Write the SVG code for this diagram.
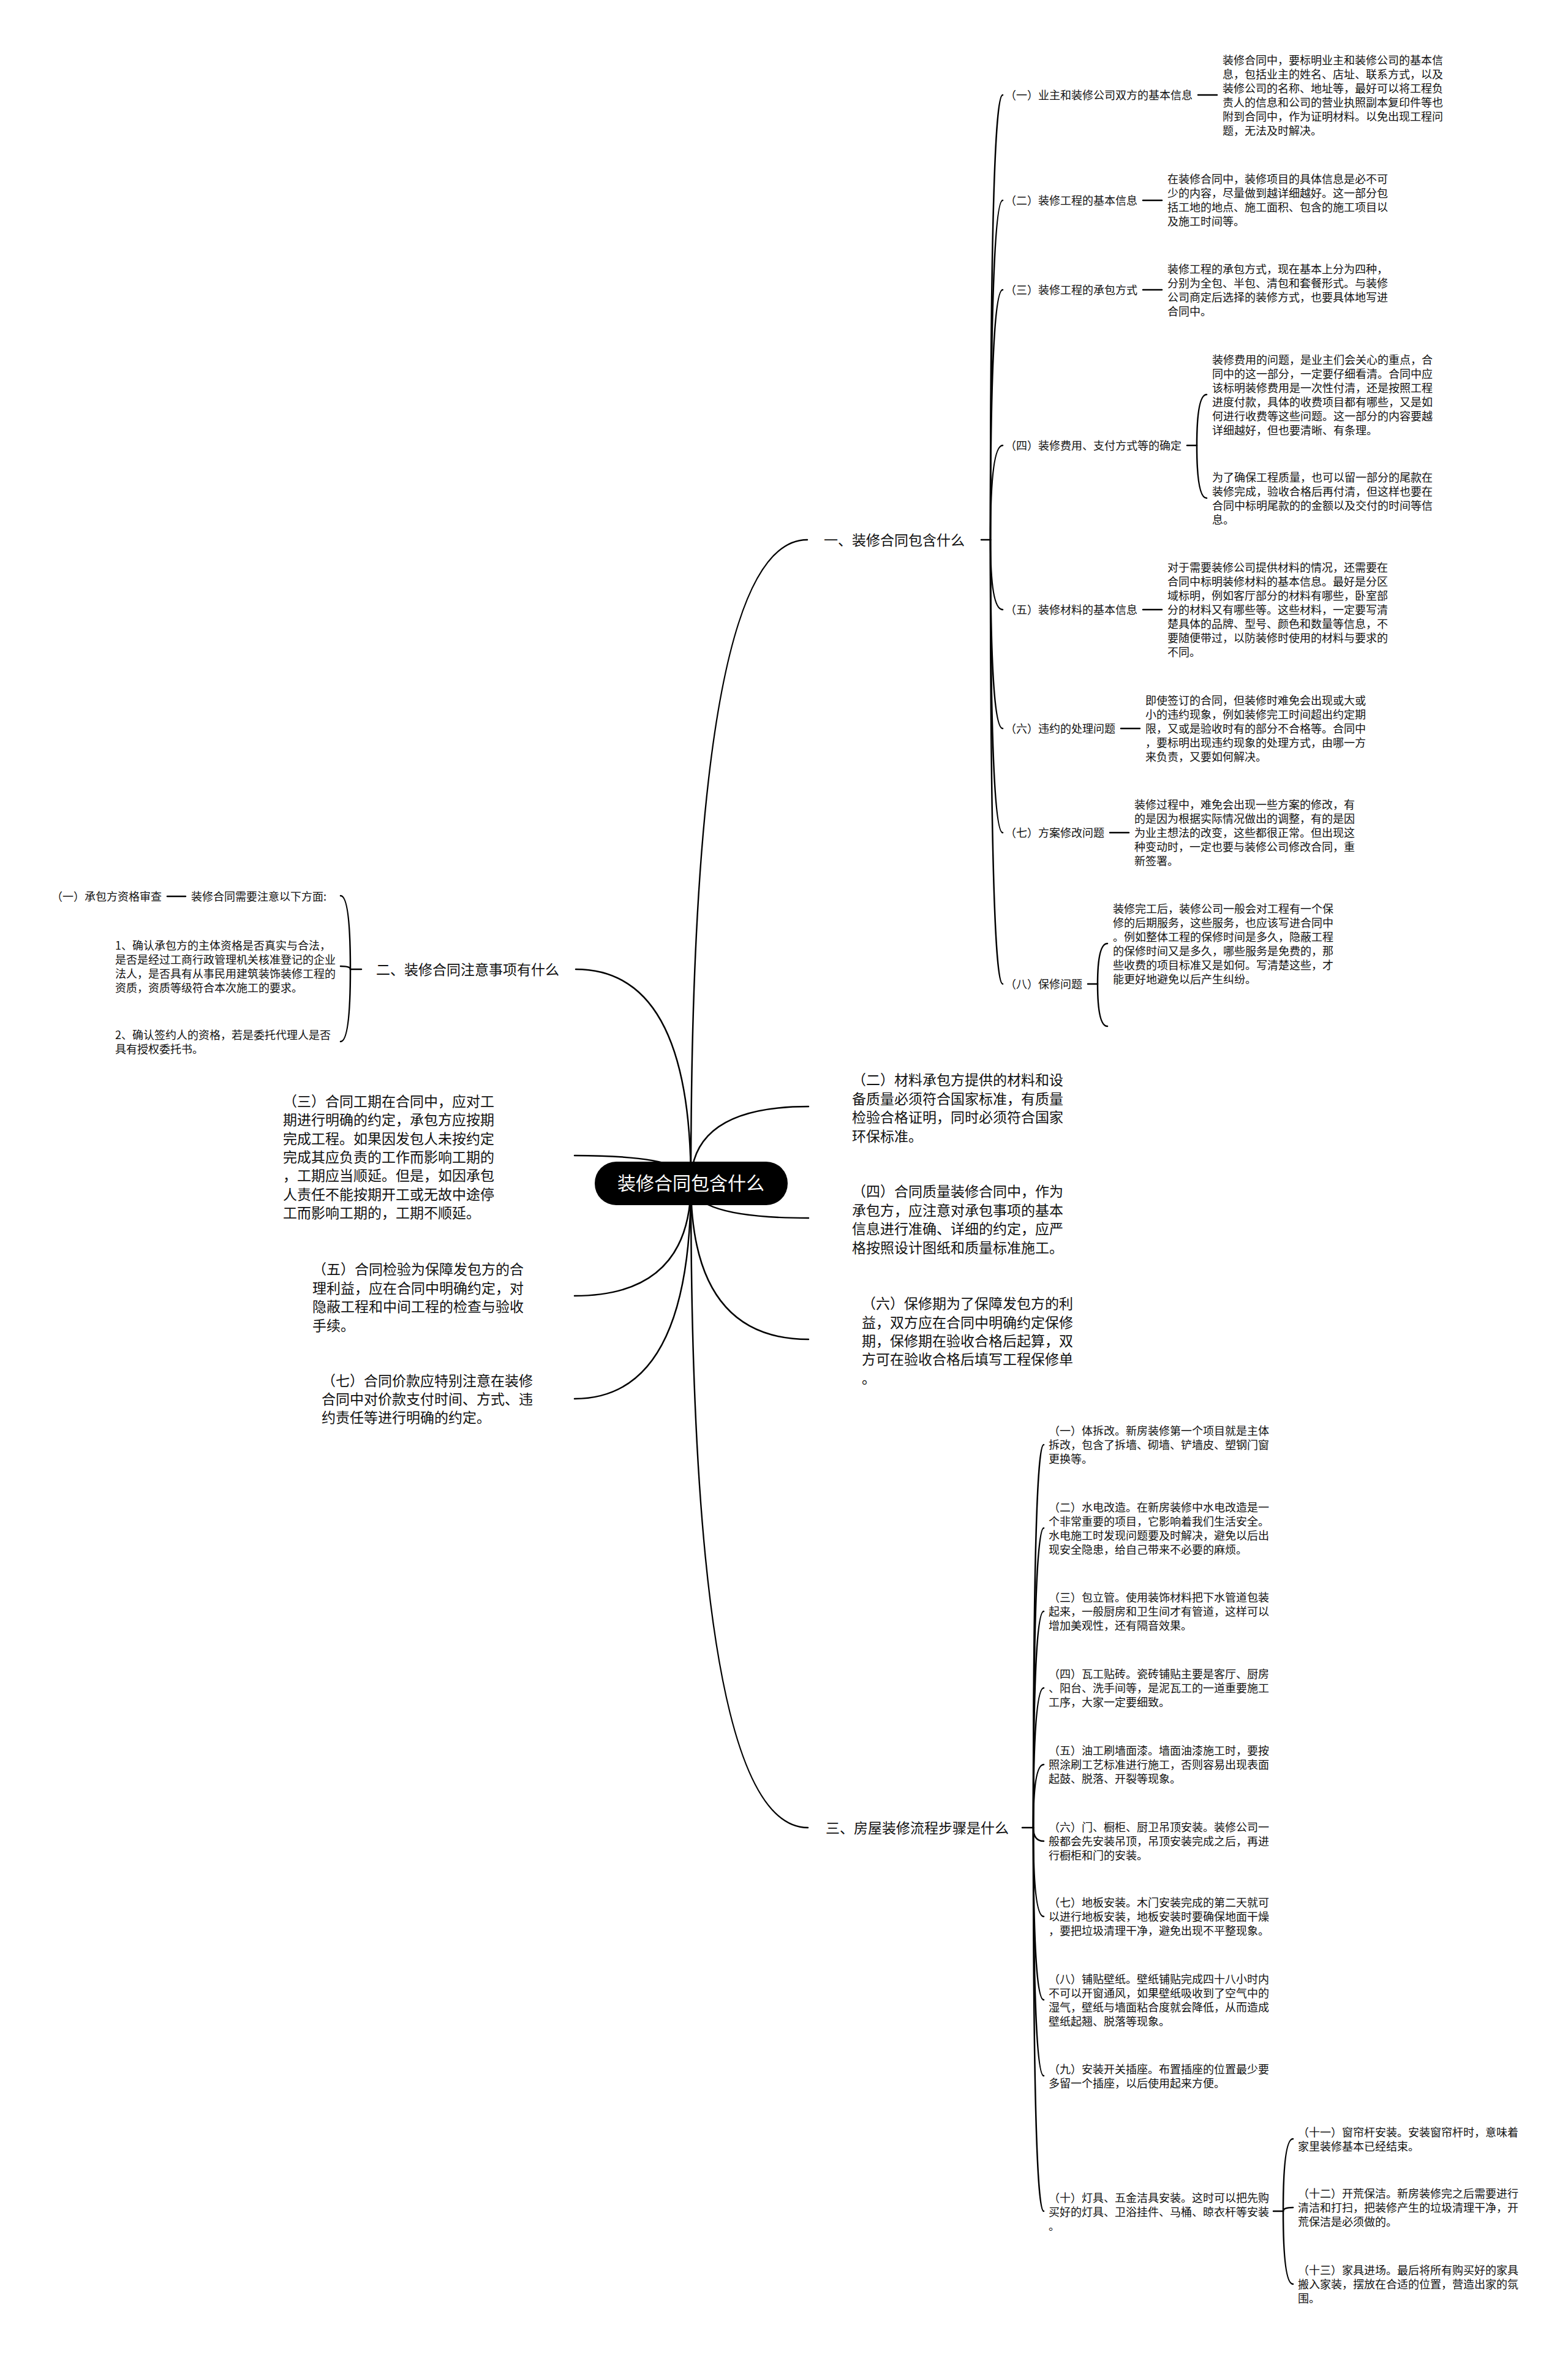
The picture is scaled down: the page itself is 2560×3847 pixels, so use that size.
<svg xmlns="http://www.w3.org/2000/svg" width="2560" height="3847" viewBox="0 0 2560 3847">
<style>
text{font-family:"Noto Sans CJK SC","Noto Sans",sans-serif;fill:#111}
.s{font-size:18px}
.m{font-size:23px}
.c{font-size:30px;fill:#fff}
.l{fill:none;stroke:#000;stroke-width:2.5;stroke-linecap:round}
</style>
<rect width="2560" height="3847" fill="#fff"/>
<g id="connectors">
<path class="l" d="M1128 1931Q1128 881 1318 881"/>
<path class="l" d="M1128 1931Q1128 1806 1320 1806"/>
<path class="l" d="M1128 1931Q1128 1988 1320 1988"/>
<path class="l" d="M1128 1931Q1128 2186 1320 2186"/>
<path class="l" d="M1128 1931Q1128 2983 1319 2983"/>
<path class="l" d="M1128 1931Q1128 1582 940 1582"/>
<path class="l" d="M1128 1931Q1128 1886 938 1886"/>
<path class="l" d="M1128 1931Q1128 2115 938 2115"/>
<path class="l" d="M1128 1931Q1128 2283 938 2283"/>
<path class="l" d="M1602 881H1617"/>
<path class="l" d="M1617 881Q1617 155 1637 155"/>
<path class="l" d="M1617 881Q1617 327 1637 327"/>
<path class="l" d="M1617 881Q1617 473 1637 473"/>
<path class="l" d="M1617 881Q1617 727 1637 727"/>
<path class="l" d="M1617 881Q1617 995 1637 995"/>
<path class="l" d="M1617 881Q1617 1189 1637 1189"/>
<path class="l" d="M1617 881Q1617 1359 1637 1359"/>
<path class="l" d="M1617 881Q1617 1606 1637 1606"/>
<path class="l" d="M1956 155H1987"/>
<path class="l" d="M1866 327H1897"/>
<path class="l" d="M1866 473H1897"/>
<path class="l" d="M1938 727H1954"/>
<path class="l" d="M1954 727Q1954 644 1970 644"/>
<path class="l" d="M1954 727Q1954 813 1970 813"/>
<path class="l" d="M1866 995H1897"/>
<path class="l" d="M1830 1189H1861"/>
<path class="l" d="M1812 1359H1843"/>
<path class="l" d="M1776 1606H1792"/>
<path class="l" d="M1792 1606Q1792 1540 1808 1540"/>
<path class="l" d="M1792 1606Q1792 1675 1808 1675"/>
<path class="l" d="M590 1582H572"/>
<path class="l" d="M572 1582Q572 1462 556 1462"/>
<path class="l" d="M572 1582Q572 1577 556 1577"/>
<path class="l" d="M572 1582Q572 1700 556 1700"/>
<path class="l" d="M303 1463H273"/>
<path class="l" d="M1669 2983H1687"/>
<path class="l" d="M1687 2983Q1687 2358 1704 2358"/>
<path class="l" d="M1687 2983Q1687 2494 1704 2494"/>
<path class="l" d="M1687 2983Q1687 2630 1704 2630"/>
<path class="l" d="M1687 2983Q1687 2755 1704 2755"/>
<path class="l" d="M1687 2983Q1687 2880 1704 2880"/>
<path class="l" d="M1687 2983Q1687 3005 1704 3005"/>
<path class="l" d="M1687 2983Q1687 3128 1704 3128"/>
<path class="l" d="M1687 2983Q1687 3264 1704 3264"/>
<path class="l" d="M1687 2983Q1687 3388 1704 3388"/>
<path class="l" d="M1687 2983Q1687 3609 1704 3609"/>
<path class="l" d="M2079 3609H2095"/>
<path class="l" d="M2095 3609Q2095 3491 2111 3491"/>
<path class="l" d="M2095 3609Q2095 3603 2111 3603"/>
<path class="l" d="M2095 3609Q2095 3728 2111 3728"/>
</g>
<g id="root">
<rect x="971" y="1896" width="315" height="71" rx="35" fill="#000"/>
<text class="c" x="1128" y="1942" text-anchor="middle">装修合同包含什么</text>
</g>
<g id="sec1"><text class="m" x="1345" y="890">一、装修合同包含什么</text></g>
<g id="sec1-1-label"><text class="s" x="1641" y="162">（一）业主和装修公司双方的基本信息</text></g>
<g id="sec1-1-text"><text class="s"><tspan x="1996" y="104.5">装修合同中，要标明业主和装修公司的基本信</tspan><tspan x="1996" y="127.5">息，包括业主的姓名、店址、联系方式，以及</tspan><tspan x="1996" y="150.5">装修公司的名称、地址等，最好可以将工程负</tspan><tspan x="1996" y="173.5">责人的信息和公司的营业执照副本复印件等也</tspan><tspan x="1996" y="196.5">附到合同中，作为证明材料。以免出现工程问</tspan><tspan x="1996" y="219.5">题，无法及时解决。</tspan></text></g>
<g id="sec1-2-label"><text class="s" x="1641" y="334">（二）装修工程的基本信息</text></g>
<g id="sec1-2-text"><text class="s"><tspan x="1906" y="298.5">在装修合同中，装修项目的具体信息是必不可</tspan><tspan x="1906" y="321.5">少的内容，尽量做到越详细越好。这一部分包</tspan><tspan x="1906" y="344.5">括工地的地点、施工面积、包含的施工项目以</tspan><tspan x="1906" y="367.5">及施工时间等。</tspan></text></g>
<g id="sec1-3-label"><text class="s" x="1641" y="480">（三）装修工程的承包方式</text></g>
<g id="sec1-3-text"><text class="s"><tspan x="1906" y="445.5">装修工程的承包方式，现在基本上分为四种，</tspan><tspan x="1906" y="468.5">分别为全包、半包、清包和套餐形式。与装修</tspan><tspan x="1906" y="491.5">公司商定后选择的装修方式，也要具体地写进</tspan><tspan x="1906" y="514.5">合同中。</tspan></text></g>
<g id="sec1-4-label"><text class="s" x="1641" y="734">（四）装修费用、支付方式等的确定</text></g>
<g id="sec1-4-text-a"><text class="s"><tspan x="1979" y="593.5">装修费用的问题，是业主们会关心的重点，合</tspan><tspan x="1979" y="616.5">同中的这一部分，一定要仔细看清。合同中应</tspan><tspan x="1979" y="639.5">该标明装修费用是一次性付清，还是按照工程</tspan><tspan x="1979" y="662.5">进度付款，具体的收费项目都有哪些，又是如</tspan><tspan x="1979" y="685.5">何进行收费等这些问题。这一部分的内容要越</tspan><tspan x="1979" y="708.5">详细越好，但也要清晰、有条理。</tspan></text></g>
<g id="sec1-4-text-b"><text class="s"><tspan x="1979" y="785.5">为了确保工程质量，也可以留一部分的尾款在</tspan><tspan x="1979" y="808.5">装修完成，验收合格后再付清，但这样也要在</tspan><tspan x="1979" y="831.5">合同中标明尾款的的金额以及交付的时间等信</tspan><tspan x="1979" y="854.5">息。</tspan></text></g>
<g id="sec1-5-label"><text class="s" x="1641" y="1002">（五）装修材料的基本信息</text></g>
<g id="sec1-5-text"><text class="s"><tspan x="1906" y="933">对于需要装修公司提供材料的情况，还需要在</tspan><tspan x="1906" y="956">合同中标明装修材料的基本信息。最好是分区</tspan><tspan x="1906" y="979">域标明，例如客厅部分的材料有哪些，卧室部</tspan><tspan x="1906" y="1002">分的材料又有哪些等。这些材料，一定要写清</tspan><tspan x="1906" y="1025">楚具体的品牌、型号、颜色和数量等信息，不</tspan><tspan x="1906" y="1048">要随便带过，以防装修时使用的材料与要求的</tspan><tspan x="1906" y="1071">不同。</tspan></text></g>
<g id="sec1-6-label"><text class="s" x="1641" y="1196">（六）违约的处理问题</text></g>
<g id="sec1-6-text"><text class="s"><tspan x="1870" y="1150">即使签订的合同，但装修时难免会出现或大或</tspan><tspan x="1870" y="1173">小的违约现象，例如装修完工时间超出约定期</tspan><tspan x="1870" y="1196">限，又或是验收时有的部分不合格等。合同中</tspan><tspan x="1870" y="1219">，要标明出现违约现象的处理方式，由哪一方</tspan><tspan x="1870" y="1242">来负责，又要如何解决。</tspan></text></g>
<g id="sec1-7-label"><text class="s" x="1641" y="1366">（七）方案修改问题</text></g>
<g id="sec1-7-text"><text class="s"><tspan x="1852" y="1320">装修过程中，难免会出现一些方案的修改，有</tspan><tspan x="1852" y="1343">的是因为根据实际情况做出的调整，有的是因</tspan><tspan x="1852" y="1366">为业主想法的改变，这些都很正常。但出现这</tspan><tspan x="1852" y="1389">种变动时，一定也要与装修公司修改合同，重</tspan><tspan x="1852" y="1412">新签署。</tspan></text></g>
<g id="sec1-8-label"><text class="s" x="1641" y="1613">（八）保修问题</text></g>
<g id="sec1-8-text"><text class="s"><tspan x="1817" y="1489.5">装修完工后，装修公司一般会对工程有一个保</tspan><tspan x="1817" y="1512.5">修的后期服务，这些服务，也应该写进合同中</tspan><tspan x="1817" y="1535.5">。例如整体工程的保修时间是多久，隐蔽工程</tspan><tspan x="1817" y="1558.5">的保修时间又是多久，哪些服务是免费的，那</tspan><tspan x="1817" y="1581.5">些收费的项目标准又是如何。写清楚这些，才</tspan><tspan x="1817" y="1604.5">能更好地避免以后产生纠纷。</tspan></text></g>
<g id="sec2"><text class="m" x="614" y="1591">二、装修合同注意事项有什么</text></g>
<g id="sec2-a"><text class="s" x="312" y="1470">装修合同需要注意以下方面:</text></g>
<g id="sec2-a-1"><text class="s" x="84" y="1470">（一）承包方资格审查</text></g>
<g id="sec2-b"><text class="s"><tspan x="188" y="1549.5">1、确认承包方的主体资格是否真实与合法，</tspan><tspan x="188" y="1572.5">是否是经过工商行政管理机关核准登记的企业</tspan><tspan x="188" y="1595.5">法人，是否具有从事民用建筑装饰装修工程的</tspan><tspan x="188" y="1618.5">资质，资质等级符合本次施工的要求。</tspan></text></g>
<g id="sec2-c"><text class="s"><tspan x="188" y="1695.5">2、确认签约人的资格，若是委托代理人是否</tspan><tspan x="188" y="1718.5">具有授权委托书。</tspan></text></g>
<g id="n-2"><text class="m"><tspan x="1391" y="1771.4">（二）材料承包方提供的材料和设</tspan><tspan x="1391" y="1801.8">备质量必须符合国家标准，有质量</tspan><tspan x="1391" y="1832.2">检验合格证明，同时必须符合国家</tspan><tspan x="1391" y="1862.6">环保标准。</tspan></text></g>
<g id="n-4"><text class="m"><tspan x="1391" y="1953.4">（四）合同质量装修合同中，作为</tspan><tspan x="1391" y="1983.8">承包方，应注意对承包事项的基本</tspan><tspan x="1391" y="2014.2">信息进行准确、详细的约定，应严</tspan><tspan x="1391" y="2044.6">格按照设计图纸和质量标准施工。</tspan></text></g>
<g id="n-6"><text class="m"><tspan x="1407" y="2136.2">（六）保修期为了保障发包方的利</tspan><tspan x="1407" y="2166.6">益，双方应在合同中明确约定保修</tspan><tspan x="1407" y="2197">期，保修期在验收合格后起算，双</tspan><tspan x="1407" y="2227.4">方可在验收合格后填写工程保修单</tspan><tspan x="1407" y="2257.8">。</tspan></text></g>
<g id="n-3"><text class="m"><tspan x="462" y="1805.8">（三）合同工期在合同中，应对工</tspan><tspan x="462" y="1836.2">期进行明确的约定，承包方应按期</tspan><tspan x="462" y="1866.6">完成工程。如果因发包人未按约定</tspan><tspan x="462" y="1897">完成其应负责的工作而影响工期的</tspan><tspan x="462" y="1927.4">，工期应当顺延。但是，如因承包</tspan><tspan x="462" y="1957.8">人责任不能按期开工或无故中途停</tspan><tspan x="462" y="1988.2">工而影响工期的，工期不顺延。</tspan></text></g>
<g id="n-5"><text class="m"><tspan x="510" y="2080.4">（五）合同检验为保障发包方的合</tspan><tspan x="510" y="2110.8">理利益，应在合同中明确约定，对</tspan><tspan x="510" y="2141.2">隐蔽工程和中间工程的检查与验收</tspan><tspan x="510" y="2171.6">手续。</tspan></text></g>
<g id="n-7"><text class="m"><tspan x="525" y="2261.6">（七）合同价款应特别注意在装修</tspan><tspan x="525" y="2292">合同中对价款支付时间、方式、违</tspan><tspan x="525" y="2322.4">约责任等进行明确的约定。</tspan></text></g>
<g id="sec3"><text class="m" x="1348" y="2992">三、房屋装修流程步骤是什么</text></g>
<g id="sec3-1"><text class="s"><tspan x="1712" y="2342">（一）体拆改。新房装修第一个项目就是主体</tspan><tspan x="1712" y="2365">拆改，包含了拆墙、砌墙、铲墙皮、塑钢门窗</tspan><tspan x="1712" y="2388">更换等。</tspan></text></g>
<g id="sec3-2"><text class="s"><tspan x="1712" y="2466.5">（二）水电改造。在新房装修中水电改造是一</tspan><tspan x="1712" y="2489.5">个非常重要的项目，它影响着我们生活安全。</tspan><tspan x="1712" y="2512.5">水电施工时发现问题要及时解决，避免以后出</tspan><tspan x="1712" y="2535.5">现安全隐患，给自己带来不必要的麻烦。</tspan></text></g>
<g id="sec3-3"><text class="s"><tspan x="1712" y="2614">（三）包立管。使用装饰材料把下水管道包装</tspan><tspan x="1712" y="2637">起来，一般厨房和卫生间才有管道，这样可以</tspan><tspan x="1712" y="2660">增加美观性，还有隔音效果。</tspan></text></g>
<g id="sec3-4"><text class="s"><tspan x="1712" y="2739">（四）瓦工贴砖。瓷砖铺贴主要是客厅、厨房</tspan><tspan x="1712" y="2762">、阳台、洗手间等，是泥瓦工的一道重要施工</tspan><tspan x="1712" y="2785">工序，大家一定要细致。</tspan></text></g>
<g id="sec3-5"><text class="s"><tspan x="1712" y="2864">（五）油工刷墙面漆。墙面油漆施工时，要按</tspan><tspan x="1712" y="2887">照涂刷工艺标准进行施工，否则容易出现表面</tspan><tspan x="1712" y="2910">起鼓、脱落、开裂等现象。</tspan></text></g>
<g id="sec3-6"><text class="s"><tspan x="1712" y="2989">（六）门、橱柜、厨卫吊顶安装。装修公司一</tspan><tspan x="1712" y="3012">般都会先安装吊顶，吊顶安装完成之后，再进</tspan><tspan x="1712" y="3035">行橱柜和门的安装。</tspan></text></g>
<g id="sec3-7"><text class="s"><tspan x="1712" y="3112">（七）地板安装。木门安装完成的第二天就可</tspan><tspan x="1712" y="3135">以进行地板安装，地板安装时要确保地面干燥</tspan><tspan x="1712" y="3158">，要把垃圾清理干净，避免出现不平整现象。</tspan></text></g>
<g id="sec3-8"><text class="s"><tspan x="1712" y="3236.5">（八）铺贴壁纸。壁纸铺贴完成四十八小时内</tspan><tspan x="1712" y="3259.5">不可以开窗通风，如果壁纸吸收到了空气中的</tspan><tspan x="1712" y="3282.5">湿气，壁纸与墙面粘合度就会降低，从而造成</tspan><tspan x="1712" y="3305.5">壁纸起翘、脱落等现象。</tspan></text></g>
<g id="sec3-9"><text class="s"><tspan x="1712" y="3383.5">（九）安装开关插座。布置插座的位置最少要</tspan><tspan x="1712" y="3406.5">多留一个插座，以后使用起来方便。</tspan></text></g>
<g id="sec3-10"><text class="s"><tspan x="1712" y="3594">（十）灯具、五金洁具安装。这时可以把先购</tspan><tspan x="1712" y="3617">买好的灯具、卫浴挂件、马桶、晾衣杆等安装</tspan><tspan x="1712" y="3640">。</tspan></text></g>
<g id="sec3-11"><text class="s"><tspan x="2119" y="3486.5">（十一）窗帘杆安装。安装窗帘杆时，意味着</tspan><tspan x="2119" y="3509.5">家里装修基本已经结束。</tspan></text></g>
<g id="sec3-12"><text class="s"><tspan x="2119" y="3587">（十二）开荒保洁。新房装修完之后需要进行</tspan><tspan x="2119" y="3610">清洁和打扫，把装修产生的垃圾清理干净，开</tspan><tspan x="2119" y="3633">荒保洁是必须做的。</tspan></text></g>
<g id="sec3-13"><text class="s"><tspan x="2119" y="3712">（十三）家具进场。最后将所有购买好的家具</tspan><tspan x="2119" y="3735">搬入家装，摆放在合适的位置，营造出家的氛</tspan><tspan x="2119" y="3758">围。</tspan></text></g>
</svg>
